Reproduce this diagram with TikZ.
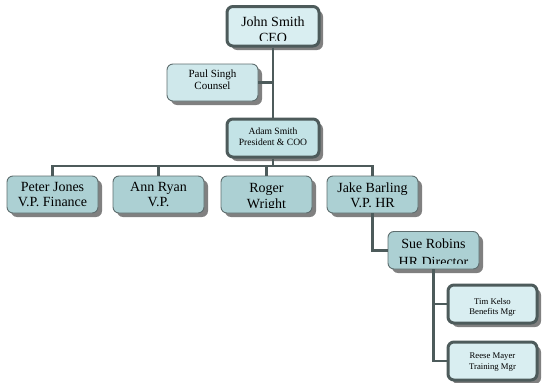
\documentclass[tikz,border=0pt]{standalone}
\usepackage{fontspec}
\setmainfont{Liberation Serif}
\usetikzlibrary{shadows}
\definecolor{linec}{HTML}{4D5B5B}
\definecolor{thinc}{HTML}{5E6E6F}
\definecolor{shadowc}{HTML}{808080}
\definecolor{lightf}{HTML}{D9EEF1}
\definecolor{paulf}{HTML}{CFE8EB}
\definecolor{adamf}{HTML}{C3E3E6}
\definecolor{vpf}{HTML}{ACD0D3}
\tikzset{
  boxbase/.style={rectangle, rounded corners=6pt, inner sep=0pt,
    drop shadow={shadow xshift=4pt, shadow yshift=-4pt, fill=shadowc, opacity=1}},
  thickbox/.style={boxbase, draw=linec, line width=3pt},
  thinbox/.style={boxbase, draw=thinc, line width=0.9pt},
  conn/.style={draw=linec, line width=2.8pt},
}
\def\cinset{1.5}
% #1 name, #2 style, #3 x1, #4 y1, #5 x2, #6 y2, #7 font, #8 text top y, #9 text
\newcommand\obox[9]{%
  \node[#2, minimum width={#5-#3}, minimum height={#6-#4}] (#1) at ({(#3+#5)/2},{(#4+#6)/2}) {};
  \begin{scope}
    \clip ({#3+1.5},{#4+1.5}) rectangle ({#5-1.5},{#6-\cinset});
    \node[font=#7, align=center, inner sep=0pt, anchor=north] (#1-t) at ({(#3+#5)/2},#8) {#9};
  \end{scope}}
\begin{document}
\begin{tikzpicture}[x=1pt,y=-1pt]
\useasboundingbox (0,0) rectangle (542,383);
\coordinate (bus) at (273,166);
\coordinate (paulj) at (273,82.5);
\obox{paul}{thinbox, fill=paulf}{167}{64}{258}{101}{\fontsize{11}{12.5}\selectfont}{69.5}{Paul Singh\\Counsel}
\obox{adam}{thickbox, fill=adamf}{227}{119}{319}{157}{\fontsize{9.6}{11}\selectfont}{127.2}{Adam Smith\\President \& COO}
\obox{peter}{thinbox, fill=vpf}{7}{176}{98}{213}{\fontsize{14}{15}\selectfont}{182.3}{Peter Jones\\V.P. Finance}
\obox{ann}{thinbox, fill=vpf}{113}{176}{204}{213}{\fontsize{14}{15}\selectfont}{182.3}{Ann Ryan\\V.P.}
\obox{jake}{thinbox, fill=vpf}{327}{176}{418}{213}{\fontsize{14}{15}\selectfont}{182.3}{Jake Barling\\V.P. HR}
\obox{tim}{thickbox, fill=lightf}{448}{285}{537}{323}{\fontsize{8.7}{10.5}\selectfont}{297.8}{Tim Kelso\\Benefits Mgr}
\obox{reese}{thickbox, fill=lightf}{448}{342}{537}{380}{\fontsize{8.7}{10.5}\selectfont}{352.8}{Reese Mayer\\Training Mgr}
\def\cinset{5.8}
\obox{ceo}{thickbox, fill=lightf}{227}{6.5}{319}{46}{\fontsize{14}{16}\selectfont}{17}{John Smith\\CEO}
\obox{roger}{thinbox, fill=vpf}{221}{176}{312}{213}{\fontsize{14}{15.5}\selectfont}{183.3}{Roger\\Wright}
\obox{sue}{thinbox, fill=vpf}{388}{231.5}{479}{269}{\fontsize{14}{18}\selectfont}{239}{Sue Robins\\HR Director}
\draw[conn] (ceo.south) -- (adam.north);
\draw[conn] (paul.east |- paulj) -- (paulj);
\draw[conn] (adam.south) -- (bus);
\draw[conn] (bus) -| (peter.north);
\draw[conn] (bus) -| (ann.north);
\draw[conn] (bus) -| (roger.north);
\draw[conn] (bus) -| (jake.north);
\draw[conn] (jake.south) |- (sue.west);
\draw[conn] (sue.south) |- (tim.west);
\draw[conn] (sue.south) |- (reese.west);
\end{tikzpicture}
\end{document}
